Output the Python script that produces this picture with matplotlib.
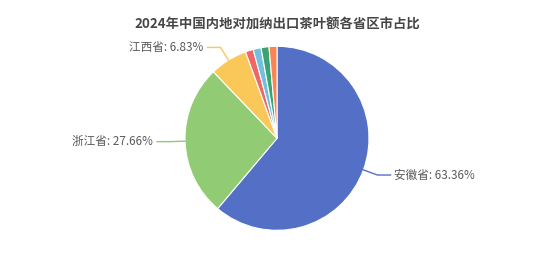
import numpy as np
import matplotlib.pyplot as plt

plt.rcParams['font.family'] = ['Noto Sans CJK SC', 'DejaVu Sans']

# data (small slices have no visible labels)
provinces = ["安徽省", "浙江省", "江西省", "福建省", "湖南省", "湖北省", "云南省"]
shares = [63.36, 27.66, 6.83, 0.72, 0.58, 0.47, 0.38]
shown = ["安徽省", "浙江省", "江西省"]
colors = ["#5470c6", "#91cc75", "#fac858", "#ee6666", "#73c0de", "#3ba272", "#fc8452"]


def min_angle_sizes(values, min_angle=5):
    """tiny slices get min_angle degrees, the others share the rest (like echarts minAngle)"""
    values = np.array(values, dtype=float)
    angles = values / values.sum() * 360
    small = angles < min_angle
    rest = 360 - small.sum() * min_angle
    angles[~small] = values[~small] / values[~small].sum() * rest
    angles[small] = min_angle
    return angles


W, H = 554, 277
fig = plt.figure(figsize=(W / 100, H / 100), dpi=100)
ax = fig.add_axes([0, 0, 1, 1])

cx, cy, r = 277, H - 138.3, 92
wedges, _ = ax.pie(
    min_angle_sizes(shares),
    colors=colors,
    startangle=90,
    counterclock=False,
    center=(cx, cy),
    radius=r,
    wedgeprops=dict(edgecolor="white", linewidth=0.8),
)

for i, w in enumerate(wedges):
    if provinces[i] not in shown:
        continue
    a = np.deg2rad((w.theta1 + w.theta2) / 2)
    x0, y0 = cx + r * np.cos(a), cy + r * np.sin(a)
    x1, y1 = cx + (r + 15) * np.cos(a), cy + (r + 15) * np.sin(a)
    side = 1 if np.cos(a) > 0 else -1
    x2 = x1 + side * 13
    ax.plot([x0, x1, x2], [y0, y1, y1], color=colors[i], lw=1)
    ax.text(
        x2 + side * 4, y1, f"{provinces[i]}: {shares[i]:.2f}%",
        ha="left" if side > 0 else "right", va="center",
        fontsize=8.4, color="#5a5a5a",
    )

ax.set_xlim(0, W)
ax.set_ylim(0, H)
ax.axis("off")

fig.text(0.5, 1 - 25 / H, "2024年中国内地对加纳出口茶叶额各省区市占比",
         ha="center", va="center", fontsize=9.6, fontweight="bold", color="#464646")

fig.savefig("out.png", dpi=100)
